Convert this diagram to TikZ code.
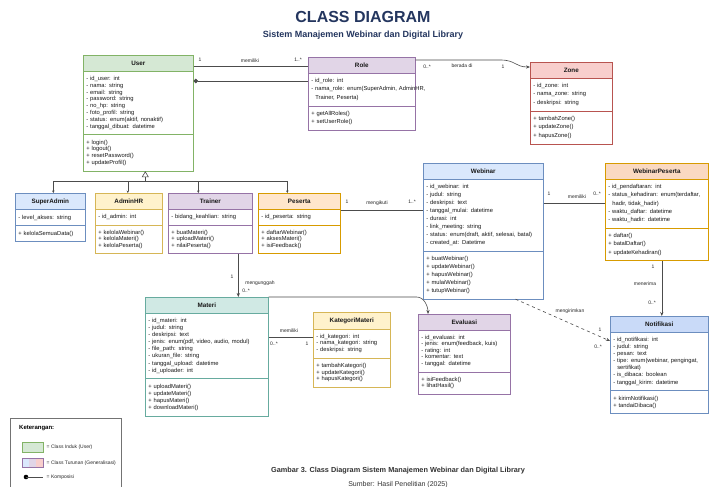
\documentclass[tikz,border=0pt]{standalone}
\usepackage{fontspec}
\setmainfont{Liberation Sans}
\usetikzlibrary{shapes.multipart,arrows.meta,calc}
\definecolor{cGreen}{HTML}{D5E8D4}\definecolor{sGreen}{HTML}{82B366}
\definecolor{cPurple}{HTML}{E1D5E7}\definecolor{sPurple}{HTML}{9673A6}
\definecolor{cRed}{HTML}{F8CECC}\definecolor{sRed}{HTML}{B85450}
\definecolor{cBlue}{HTML}{DAE8FC}\definecolor{sBlue}{HTML}{6C8EBF}
\definecolor{cBlueB}{HTML}{C9DAF8}
\definecolor{cYellow}{HTML}{FFF2CC}\definecolor{sYellow}{HTML}{D6B656}
\definecolor{cOrange}{HTML}{FFE6CC}\definecolor{sOrange}{HTML}{D79B00}
\definecolor{cPeach}{HTML}{FAD9C1}
\definecolor{cTeal}{HTML}{D0E9E4}\definecolor{sTeal}{HTML}{67AB9F}
\definecolor{navy}{HTML}{24365F}
\hyphenpenalty=10000 \exhyphenpenalty=10000
\newcommand{\clshead}[1]{{\centering\fontsize{6.3}{7}\selectfont\bfseries\rule[-0.5pt]{0pt}{5pt}#1\par}}
\begin{document}
\begin{tikzpicture}[x=1pt,y=-1pt,
  cls/.style 2 args={rectangle split, rectangle split parts=3, draw=#2,
    rectangle split part fill={#1,white}, anchor=north west, inner xsep=3pt,
    inner ysep=5pt, align=left, line width=0.6pt, text=black!90,
    font=\fontsize{5.8}{8}\selectfont},
  ls/.style={font=\fontsize{5.8}{#1}\selectfont},
  lbl/.style={font=\fontsize{5}{6}\selectfont, inner sep=0.5pt, text=black!85},
  conn/.style={draw=black!70, line width=0.6pt},
  tip/.style={-{Stealth[length=4pt,width=3.2pt]}},
  smalltip/.style={-{Stealth[length=2.5pt,width=2.5pt]}},
]
\useasboundingbox (0,0) rectangle (710,487);
\fill[white] (0,0) rectangle (710,487);

% titles
\node[font=\fontsize{16}{18}\selectfont\bfseries, text=navy] (title) at (363,17) {CLASS DIAGRAM};
\node[font=\fontsize{9}{11}\selectfont\bfseries, text=navy] (subtitle) at (363,35) {Sistem Manajemen Webinar dan Digital Library};

% classes
\node[cls={cGreen}{sGreen}, ls=6.8, text width=104pt] (user) at (83,55)
 {\clshead{User}\nodepart{second}- id\_user: int\\- nama: string\\- email: string\\- password: string\\- no\_hp: string\\- foto\_profil: string\\- status: enum(aktif, nonaktif)\\- tanggal\_dibuat: datetime\nodepart{third}+ login()\\+ logout()\\+ resetPassword()\\+ updateProfil()};

\node[cls={cPurple}{sPurple}, ls=8.5, text width=101pt] (role) at (308,57)
 {\clshead{Role}\nodepart{second}- id\_role: int\\\mbox{- nama\_role: enum(SuperAdmin, AdminHR,}\\\hspace*{4pt}Trainer, Peserta)\nodepart{third}+ getAllRoles()\\+ setUserRole()};

\node[cls={cRed}{sRed}, ls=8.5, text width=76pt] (zone) at (530,62)
 {\clshead{Zone}\nodepart{second}- id\_zone: int\\- nama\_zone: string\\- deskripsi: string\nodepart{third}+ tambahZone()\\+ updateZone()\\+ hapusZone()};

\node[cls={cBlue}{sBlue}, text width=64pt] (sa) at (15,193)
 {\clshead{SuperAdmin}\nodepart{second}- level\_akses: string\nodepart{third}+ kelolaSemuaData()};

\node[cls={cYellow}{sYellow}, ls=6.3, text width=61pt] (adm) at (95,193)
 {\clshead{AdminHR}\nodepart{second}- id\_admin: int\nodepart{third}+ kelolaWebinar()\\+ kelolaMateri()\\+ kelolaPeserta()};

\node[cls={cPurple}{sPurple}, ls=6.3, text width=78pt] (trn) at (168,193)
 {\clshead{Trainer}\nodepart{second}- bidang\_keahlian: string\nodepart{third}+ buatMateri()\\+ uploadMateri()\\+ nilaiPeserta()};

\node[cls={cOrange}{sOrange}, ls=6.3, text width=76pt] (pes) at (258,193)
 {\clshead{Peserta}\nodepart{second}- id\_peserta: string\nodepart{third}+ daftarWebinar()\\+ aksesMateri()\\+ isiFeedback()};

\node[cls={cBlue}{sBlue}, ls=8, text width=114pt] (web) at (423,163)
 {\clshead{Webinar}\nodepart{second}- id\_webinar: int\\- judul: string\\- deskripsi: text\\- tanggal\_mulai: datetime\\- durasi: int\\- link\_meeting: string\\\mbox{- status: enum(draft, aktif, selesai, batal)}\\- created\_at: Datetime\nodepart{third}+ buatWebinar()\\+ updateWebinar()\\+ hapusWebinar()\\+ mulaiWebinar()\\+ tutupWebinar()};

\node[cls={cPeach}{sOrange}, ls=8.3, text width=97pt] (wp) at (605,163)
 {\clshead{WebinarPeserta}\nodepart{second}- id\_pendaftaran: int\\\mbox{- status\_kehadiran: enum(terdaftar,}\\\hspace*{4pt}hadir, tidak\_hadir)\\- waktu\_daftar: datetime\\- waktu\_hadir: datetime\nodepart{third}+ daftar()\\+ batalDaftar()\\+ updateKehadiran()};

\node[cls={cTeal}{sTeal}, ls=7.1, text width=117pt] (mat) at (145,297)
 {\clshead{Materi}\nodepart{second}- id\_materi: int\\- judul: string\\- deskripsi: text\\- jenis: enum(pdf, video, audio, modul)\\- file\_path: string\\- ukuran\_file: string\\- tanggal\_upload: datetime\\- id\_uploader: int\nodepart{third}+ uploadMateri()\\+ updateMateri()\\+ hapusMateri()\\+ downloadMateri()};

\node[cls={cYellow}{sYellow}, ls=6.6, text width=71pt] (kat) at (313,312)
 {\clshead{KategoriMateri}\nodepart{second}- id\_kategori: int\\- nama\_kategori: string\\- deskripsi: string\nodepart{third}+ tambahKategori()\\+ updateKategori()\\+ hapusKategori()};

\node[cls={cPurple}{sPurple}, ls=6.5, text width=86pt] (eva) at (418,314)
 {\clshead{Evaluasi}\nodepart{second}- id\_evaluasi: int\\- jenis: enum(feedback, kuis)\\- rating: int\\- komentar: text\\- tanggal: datetime\nodepart{third}+ isiFeedback()\\+ lihatHasil()};

\node[cls={cBlueB}{sBlue}, ls=7.1, text width=92pt] (notif) at (610,316)
 {\clshead{Notifikasi}\nodepart{second}- id\_notifikasi: int\\- judul: string\\- pesan: text\\\mbox{- tipe: enum(webinar, pengingat,}\\\hspace*{4pt}sertifikat)\\- is\_dibaca: boolean\\- tanggal\_kirim: datetime\nodepart{third}+ kirimNotifikasi()\\+ tandaiDibaca()};

% User - Role
\draw[conn] ($(user.north east)+(0,11)$) -- ($(role.north west)+(0,9)$);
\draw[conn, {Circle[length=4.5pt]}-] ($(user.north east)+(0,26)$) -- ($(role.north west)+(0,24)$);
\node[lbl] (m1a) at (200,60) {1};
\node[lbl] (m1b) at (250,61) {memiliki};
\node[lbl] (m1c) at (298,60) {1..*};

% Role - Zone
\draw[conn, tip] ($(role.north east)+(0,3)$) -- ++(85,0) .. controls +(15,0) and +(-15,0) .. ($(zone.north west)+(0,5)$);
\node[lbl] (m2a) at (427,67) {0..*};
\node[lbl] (m2b) at (462,66) {berada di};
\node[lbl] (m2c) at (503,67) {1};

% generalization
\coordinate (gtop) at ($(user.south)+(7,0)$);
\draw[conn, {Triangle[open,length=6pt,width=7pt]}-] (gtop) -- (gtop |- 0,181) coordinate (gbar);
\coordinate (dsa) at ($(sa.north)+(3,0)$);
\coordinate (dadm) at ($(adm.north)+(-1,0)$);
\coordinate (dtrn) at ($(trn.north)+(-12,0)$);
\coordinate (dpes) at ($(pes.north)+(-12,0)$);
\draw[conn] (gbar -| dsa) -- (gbar -| dpes);
\draw[conn, smalltip] (gbar -| dsa) -- (dsa);
\draw[conn, smalltip] (gbar -| dadm) -- (dadm);
\draw[conn, smalltip] (gbar -| dtrn) -- (dtrn);
\draw[conn, smalltip] (gbar -| dpes) -- (dpes);

% Peserta - Webinar
\draw[conn] ($(pes.north east)+(0,17)$) -- ($(web.north west)+(0,47)$);
\node[lbl] (m3a) at (347,202) {1};
\node[lbl] (m3b) at (377,203) {mengikuti};
\node[lbl] (m3c) at (412,202) {1..*};

% Webinar - WebinarPeserta
\draw[conn] ($(web.north east)+(0,40)$) -- ($(wp.north west)+(0,40)$);
\node[lbl] (m4a) at (549,194) {1};
\node[lbl] (m4b) at (577,197) {memiliki};
\node[lbl] (m4c) at (597,194) {0..*};

% WebinarPeserta - Notifikasi
\coordinate (wpS) at ($(wp.south)+(5,0)$);
\draw[conn, tip] (wpS) -- (wpS |- notif.north);
\node[lbl] (m5a) at (653,267) {1};
\node[lbl] (m5b) at (645,284) {menerima};
\node[lbl] (m5c) at (652,303) {0..*};

% Webinar - Notifikasi (dashed)
\draw[conn, dashed, tip] ($(web.south east)+(-28,0)$) -- ($(notif.north west)+(0,25)$);
\node[lbl] (m6b) at (570,311) {mengirimkan};
\node[lbl] (m6a) at (600,330) {1};
\node[lbl] (m6c) at (598,347) {0..*};

% Trainer - Materi
\coordinate (trS) at ($(trn.south)+(28,0)$);
\draw[conn, tip] (trS) -- (trS |- mat.north);
\node[lbl] (m7a) at (232,277) {1};
\node[lbl] (m7b) at (260,283) {mengunggah};
\node[lbl] (m7c) at (246,291) {0..*};

% Materi - Evaluasi
\draw[conn, tip] (mat.north east) -- ++(148,0) .. controls +(8,0) and +(0,-7) .. ($(eva.north west)+(10,0)$);

% Materi - KategoriMateri
\draw[conn] ($(mat.north east)+(0,40)$) -- ($(kat.north west)+(0,25)$);
\node[lbl] (m8b) at (289,331) {memiliki};
\node[lbl] (m8a) at (274,344) {0..*};
\node[lbl] (m8c) at (307,344) {1};

% legend
\draw[black!55, line width=0.6pt] (10,487) -- (10,418) -- (121,418) -- (121,487);
\node[font=\fontsize{6}{7}\selectfont\bfseries, anchor=west, inner sep=0pt] (legt) at (19,428) {Keterangan:};
\draw[fill=cGreen, draw=sGreen, line width=0.5pt] (22,442) rectangle (43,452);
\node[lbl, anchor=west] (lg1) at (46,447) {= Class Induk (User)};
\fill[cBlue] (22,458) rectangle (29,467);
\fill[cPurple] (29,458) rectangle (36,467);
\fill[cRed] (36,458) rectangle (43,467);
\draw[sPurple, line width=0.5pt] (22,458) rectangle (43,467);
\node[lbl, anchor=west] (lg2) at (46,463) {= Class Turunan (Generalisasi)};
\fill[black] (26,477) circle (2.3);
\draw[black!70, line width=0.6pt] (26,477) -- (43,477);
\node[lbl, anchor=west] (lg3) at (46,477) {= Komposisi};

% caption
\node[font=\fontsize{7.3}{8}\selectfont\bfseries, text=black!80] (cap) at (398,471) {Gambar 3. Class Diagram Sistem Manajemen Webinar dan Digital Library};
\node[font=\fontsize{7}{8}\selectfont, text=black!80] (src) at (398,485) {Sumber: Hasil Penelitian (2025)};
\end{tikzpicture}
\end{document}
